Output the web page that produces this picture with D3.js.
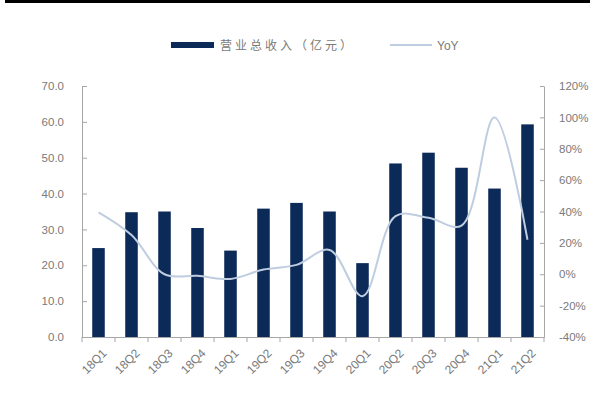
<!DOCTYPE html>
<html>
<head>
<meta charset="utf-8">
<script src="https://cdn.jsdelivr.net/npm/d3@7/dist/d3.min.js"></script>
<style>
  html, body { margin: 0; padding: 0; background: #fff; }
  svg { display: block; }
</style>
</head>
<body>
<script>
// Quarterly total operating revenue (亿元) and its year-over-year growth
const quarters = ["18Q1","18Q2","18Q3","18Q4","19Q1","19Q2","19Q3","19Q4","20Q1","20Q2","20Q3","20Q4","21Q1","21Q2"];
const revenue  = [24.8, 34.8, 35.0, 30.4, 24.1, 35.8, 37.4, 35.0, 20.6, 48.4, 51.4, 47.2, 41.4, 59.3];
const yoy      = [39.5, 25.0, 0.0, -1.0, -3.0, 3.0, 6.0, 15.5, -14.0, 37.0, 36.0, 31.0, 100.0, 22.0];
const leftTicks  = [0, 10, 20, 30, 40, 50, 60, 70];
const rightTicks = [-40, -20, 0, 20, 40, 60, 80, 100, 120];
const seriesNames = ["营业总收入（亿元）", "YoY"];

const W = 595, H = 398;
const plot = { left: 82, right: 544, top: 86, bottom: 337 };
const barColor = "#0c2a58";
const lineColor = "#bfcde0";
const axisColor = "#a6a6a6";
const textColor = "#7a7a7a";
const font = "'Liberation Sans', Arial, sans-serif";

const svg = d3.select("body").append("svg").attr("width", W).attr("height", H);

// top rule
svg.append("rect").attr("x", 5).attr("y", 0).attr("width", W - 10).attr("height", 3).attr("fill", "#000");

const x = d3.scaleBand().domain(quarters).range([plot.left, plot.right]).padding(0);
const yL = d3.scaleLinear().domain([0, 70]).range([plot.bottom, plot.top]);
const yR = d3.scaleLinear().domain([-40, 120]).range([plot.bottom, plot.top]);
const barW = x.bandwidth() * 0.38;

// bars
svg.append("g").selectAll("rect").data(quarters).join("rect")
  .attr("x", (d) => x(d) + x.bandwidth() / 2 - barW / 2)
  .attr("y", (d, i) => yL(revenue[i]))
  .attr("width", barW)
  .attr("height", (d, i) => yL(0) - yL(revenue[i]))
  .attr("fill", barColor);

// YoY smoothed line
const line = d3.line()
  .x((d, i) => x(quarters[i]) + x.bandwidth() / 2)
  .y((d) => yR(d))
  .curve(d3.curveCatmullRom.alpha(0.5));
svg.append("path").datum(yoy)
  .attr("d", line)
  .attr("fill", "none")
  .attr("stroke", lineColor)
  .attr("stroke-width", 2);

// left axis
const gL = svg.append("g").attr("transform", `translate(${plot.left},0)`)
  .call(d3.axisLeft(yL).tickValues(leftTicks).tickFormat(d3.format(".1f")).tickSizeInner(-5).tickSizeOuter(0).tickPadding(18));
// right axis
const gR = svg.append("g").attr("transform", `translate(${plot.right},0)`)
  .call(d3.axisRight(yR).tickValues(rightTicks).tickFormat((d) => d + "%").tickSizeInner(-4).tickSizeOuter(0).tickPadding(15));
// bottom axis, ticks between categories
const gB = svg.append("g").attr("transform", `translate(0,${plot.bottom})`)
  .call(d3.axisBottom(x).tickSize(0).tickFormat(""));
gB.selectAll(".sep").data(quarters.concat(["end"])).join("line")
  .attr("class", "sep")
  .attr("x1", (d, i) => i < quarters.length ? x(d) : plot.right)
  .attr("x2", (d, i) => i < quarters.length ? x(d) : plot.right)
  .attr("y1", 0).attr("y2", 5)
  .attr("stroke", axisColor);
gB.selectAll(".lab").data(quarters).join("text")
  .attr("class", "lab")
  .attr("transform", (d) => `translate(${x(d) + x.bandwidth() / 2 + 3},${11}) rotate(-45)`)
  .attr("text-anchor", "end")
  .attr("dy", "0.7em")
  .attr("font-family", font)
  .attr("font-size", 12)
  .attr("fill", textColor)
  .text((d) => d);

[gL, gR, gB].forEach((g) => {
  g.selectAll(".domain").attr("stroke", axisColor);
  g.selectAll(".tick line").attr("stroke", axisColor);
  g.selectAll(".tick text").attr("font-family", font).attr("font-size", 11.5).attr("fill", textColor);
});

// legend
const lg = svg.append("g");
lg.append("rect").attr("x", 171).attr("y", 42).attr("width", 43).attr("height", 6).attr("fill", barColor);
lg.append("text").attr("x", 220).attr("y", 49.5)
  .attr("font-family", "'Noto Sans CJK SC', sans-serif").attr("font-size", 12)
  .attr("letter-spacing", 3).attr("fill", textColor).text(seriesNames[0]);
lg.append("line").attr("x1", 390).attr("x2", 432).attr("y1", 45).attr("y2", 45)
  .attr("stroke", lineColor).attr("stroke-width", 2);
lg.append("text").attr("x", 437).attr("y", 49.5)
  .attr("font-family", font).attr("font-size", 12).attr("fill", textColor).text(seriesNames[1]);
</script>
</body>
</html>
